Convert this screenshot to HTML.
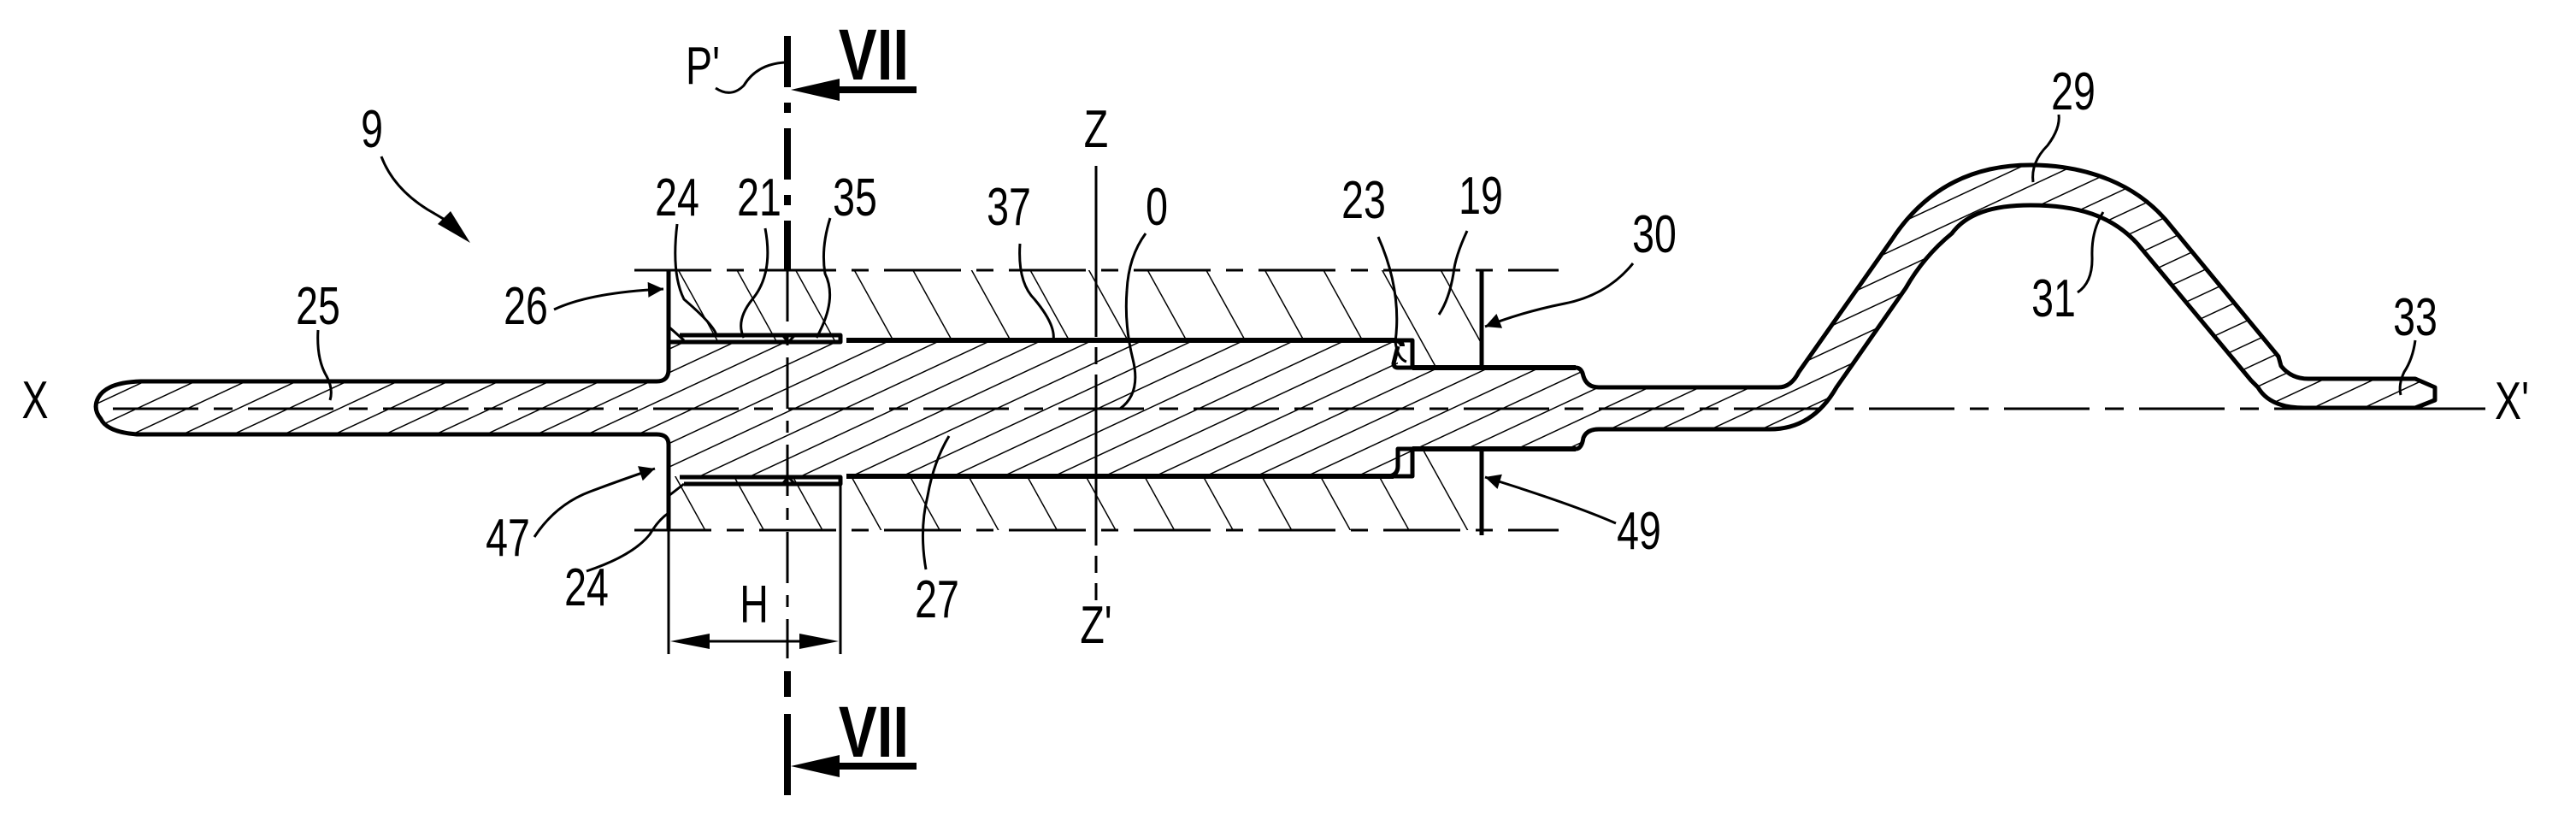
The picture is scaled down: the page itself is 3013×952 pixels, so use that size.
<!DOCTYPE html>
<html><head><meta charset="utf-8"><style>
html,body{margin:0;padding:0;background:#fff;}
svg{display:block;}
text{font-family:"Liberation Sans",sans-serif;font-size:62px;fill:#000;text-anchor:middle;}
</style></head><body>
<svg width="3013" height="952" viewBox="0 0 3013 952" xmlns="http://www.w3.org/2000/svg">
<defs>
<pattern id="hb" patternUnits="userSpaceOnUse" width="60" height="60" patternTransform="rotate(-29)">
<line x1="0" y1="0" x2="0" y2="60" stroke="#000" stroke-width="3"/></pattern>
<pattern id="hr" patternUnits="userSpaceOnUse" width="60" height="25" patternTransform="rotate(-25)">
<line x1="0" y1="0" x2="60" y2="0" stroke="#000" stroke-width="3"/></pattern>
<marker id="ar2" viewBox="0 0 10 10" refX="10" refY="5" markerWidth="40" markerHeight="18" markerUnits="userSpaceOnUse" orient="auto">
<path d="M0,0 L10,5 L0,10 Z" fill="#000"/></marker>
</defs>

<!-- outer blocks -->
<path d="M782,316 L1733,316 L1733,430 L1652,430 L1652,398 L782,398 Z" fill="url(#hb)"/>
<path d="M782,557 L1635,557 L1635,525 L1733,525 L1733,620 L782,620 Z" fill="url(#hb)"/>

<!-- rod -->
<path d="M782,398 L1635,398 L1635,430 L1843,430 Q1850,430 1852,440 Q1856,453 1870,453 L2080,453 Q2095,453 2104,435 L2213,280 Q2270,193 2375,193 C2440,193 2500,215 2538,263 L2665,417 L2668,428 Q2680,443 2700,443 L2825,443 L2848,453 L2848,468 L2825,477 L2695,477 Q2655,477 2641,453 L2633,445 L2500,285 C2470,252 2430,240 2375,240 C2330,240 2300,250 2283,273 Q2250,300 2229,337 L2148,453 Q2120,502 2070,502 L1870,502 Q1856,502 1852,512 Q1850,525 1843,525 L1652,525 L1652,557 L782,557 L782,520 Q782,508 768,508 L160,508 Q125,505 118,490 Q108,478 115,465 Q125,447 165,446 L768,446 Q782,446 782,432 Z" fill="url(#hr)"/>

<g fill="none" stroke="#000" stroke-linejoin="round">
<path stroke-width="5" d="M1843,430 Q1850,430 1852,440 Q1856,453 1870,453 L2080,453 Q2095,453 2104,435 L2213,280 Q2270,193 2375,193 C2440,193 2500,215 2538,263 L2665,417 L2668,428 Q2680,443 2700,443 L2825,443 L2848,453 L2848,468 L2825,477 L2695,477 Q2655,477 2641,453 L2633,445 L2500,285 C2470,252 2430,240 2375,240 C2330,240 2300,250 2283,273 Q2250,300 2229,337 L2148,453 Q2120,502 2070,502 L1870,502 Q1856,502 1852,512 Q1850,525 1843,525"/>
<path stroke-width="5" d="M782,520 Q782,508 768,508 L160,508 Q125,505 118,490 Q108,478 115,465 Q125,447 165,446 L768,446 Q782,446 782,432"/>
<path stroke-width="6" d="M990,398 L1630,398 Q1640,398 1640,405"/>
<path stroke-width="5" d="M1635,398 L1652,398 L1652,430 L1635,430 Q1630,430 1630,425 L1635,405"/>
<path stroke-width="6" d="M1652,430 L1843,430"/>
<path stroke-width="6" d="M990,557 L1630,557"/>
<path stroke-width="5" d="M1625,557 Q1635,555 1635,545 L1635,525 L1652,525 L1652,557 Z"/>
<path stroke-width="6" d="M1652,525 L1843,525"/>
<path stroke-width="5" d="M795,392 L983,392 L983,400 L782,400"/>
<path stroke-width="5" d="M795,558 L983,558 L983,566 L800,566"/>
<path stroke-width="3" d="M782,382 L800,398 M782,580 L800,566 M915,392 L922,400 L930,392 M915,566 L922,558 L930,566"/>
<path stroke-width="5" d="M782,316 L782,432 M782,520 L782,620"/>
<path stroke-width="5" d="M1733,316 L1733,430 M1733,525 L1733,626"/>
<path stroke-width="3" stroke-dasharray="90,18,20,18" d="M742,316 L1823,316 M742,620 L1823,620"/>
<path stroke-width="3" stroke-dasharray="100,18,22,18" d="M132,478 L2907,478"/>
<path stroke-width="3" stroke-dasharray="200,12,20,12" d="M1282,194 L1282,702"/>
<path stroke-width="8" stroke-dasharray="60,18,12,18" d="M921,42 L921,316"/>
<path stroke-width="3" stroke-dasharray="60,14,14,14" d="M921,316 L921,770"/>
<path stroke-width="8" stroke-dasharray="30,20,100,0" d="M921,785 L921,930"/>
<path stroke-width="8" d="M1072,105 L960,105 M1072,896 L960,896"/>
<path stroke-width="3" d="M782,620 L782,765 M983,566 L983,765"/>
<path stroke-width="3" d="M830,750 L935,750" />
<path stroke-width="3" d="M372,386 Q370,420 382,440 Q390,455 386,468"/>
<path stroke-width="3" d="M792,262 Q785,320 800,350 Q835,380 838,392"/>
<path stroke-width="3" d="M895,267 Q905,320 880,350 Q860,375 870,395"/>
<path stroke-width="3" d="M971,255 Q960,290 965,320 Q980,350 955,395"/>
<path stroke-width="3" d="M1193,285 Q1190,330 1210,350 Q1235,380 1232,398"/>
<path stroke-width="3" d="M1340,273 Q1320,300 1318,340 Q1315,380 1325,420 Q1335,460 1310,478"/>
<path stroke-width="3" d="M1083,666 Q1075,620 1085,580 Q1092,540 1110,510"/>
<path stroke-width="3" d="M1612,277 Q1640,340 1632,400 Q1635,420 1645,423"/>
<path stroke-width="3" d="M1716,270 Q1702,300 1700,320 Q1695,350 1683,368"/>
<path stroke-width="3" d="M2408,134 Q2410,150 2395,170 Q2375,190 2378,213"/>
<path stroke-width="3" d="M2430,342 Q2448,330 2447,300 Q2446,270 2460,248"/>
<path stroke-width="3" d="M2825,398 Q2822,420 2812,435 Q2805,450 2808,462"/>
<path stroke-width="3" d="M837,103 Q855,115 870,100 Q885,75 918,73"/>
<path stroke-width="3" d="M686,668 Q740,650 760,625 Q770,608 782,600"/>
<path stroke-width="3" d="M446,183 Q460,220 500,245 Q512,252 522,258"/>
</g>
<g fill="#000">
<path d="M925,105 L982,92 L982,118 Z"/>
<path d="M925,896 L982,883 L982,909 Z"/>
<path d="M784,750 L830,741 L830,759 Z"/>
<path d="M981,750 L935,741 L935,759 Z"/>
<path d="M550,284 L512,262 L527,247 Z"/>
</g>
<g fill="none" stroke="#000" stroke-width="3">
<path d="M648,362 Q690,342 776,338" marker-end="url(#ar2)"/>
<path d="M625,628 Q650,590 690,575 Q730,560 766,548" marker-end="url(#ar2)"/>
<path d="M1910,308 Q1880,345 1830,355 Q1780,365 1737,382" marker-end="url(#ar2)"/>
<path d="M1890,612 Q1840,590 1737,558" marker-end="url(#ar2)"/>
</g>

<g>
<text transform="translate(435,172) scale(0.75,1)">9</text>
<text transform="translate(792,252) scale(0.75,1)">24</text>
<text transform="translate(888,252) scale(0.75,1)">21</text>
<text transform="translate(1000,252) scale(0.75,1)">35</text>
<text transform="translate(1180,263) scale(0.75,1)">37</text>
<text transform="translate(1353,263) scale(0.75,1)">0</text>
<text transform="translate(1282,172) scale(0.75,1)">Z</text>
<text transform="translate(372,379) scale(0.75,1)">25</text>
<text transform="translate(615,379) scale(0.75,1)">26</text>
<text transform="translate(594,650) scale(0.75,1)">47</text>
<text transform="translate(686,708) scale(0.75,1)">24</text>
<text transform="translate(1096,722) scale(0.75,1)">27</text>
<text transform="translate(1282,752) scale(0.75,1)">Z'</text>
<text transform="translate(882,728) scale(0.75,1)">H</text>
<text transform="translate(41,489) scale(0.75,1)">X</text>
<text transform="translate(2938,490) scale(0.75,1)">X'</text>
<text transform="translate(1595,255) scale(0.75,1)">23</text>
<text transform="translate(1732,250) scale(0.75,1)">19</text>
<text transform="translate(1935,295) scale(0.75,1)">30</text>
<text transform="translate(2425,128) scale(0.75,1)">29</text>
<text transform="translate(2402,370) scale(0.75,1)">31</text>
<text transform="translate(2825,392) scale(0.75,1)">33</text>
<text transform="translate(1917,642) scale(0.75,1)">49</text>
<text transform="translate(822,98) scale(0.75,1)">P'</text>
<text transform="translate(1022,93) scale(0.8,1)" style="font-size:84px;font-weight:bold">VII</text>
<text transform="translate(1022,885) scale(0.8,1)" style="font-size:84px;font-weight:bold">VII</text>
</g>
</svg>
</body></html>
